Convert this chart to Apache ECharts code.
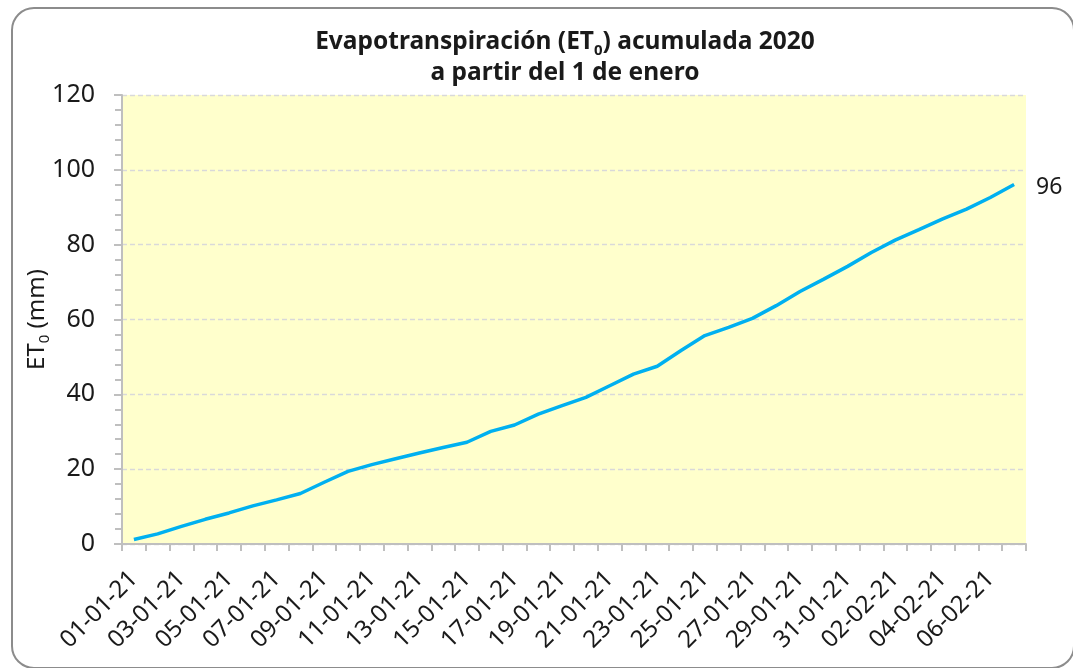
<!DOCTYPE html>
<html>
<head>
<meta charset="utf-8">
<script src="https://cdn.jsdelivr.net/npm/echarts@6/dist/echarts.min.js"></script>
<style>html,body{margin:0;padding:0;background:#fff}#c{width:1073px;height:668px}</style>
</head>
<body>
<div id="c"></div>
<script>
const categories = ['01-01-21','02-01-21','03-01-21','04-01-21','05-01-21','06-01-21','07-01-21','08-01-21','09-01-21','10-01-21',
  '11-01-21','12-01-21','13-01-21','14-01-21','15-01-21','16-01-21','17-01-21','18-01-21','19-01-21','20-01-21',
  '21-01-21','22-01-21','23-01-21','24-01-21','25-01-21','26-01-21','27-01-21','28-01-21','29-01-21','30-01-21',
  '31-01-21','01-02-21','02-02-21','03-02-21','04-02-21','05-02-21','06-02-21','07-02-21'];
const et0Acumulada = [1.2, 2.7, 4.7, 6.6, 8.3, 10.2, 11.8, 13.5, 16.5, 19.4,
  21.2, 22.8, 24.3, 25.8, 27.2, 30.1, 31.8, 34.7, 37.0, 39.2,
  42.3, 45.4, 47.5, 51.7, 55.7, 57.9, 60.3, 63.7, 67.5, 70.8,
  74.2, 77.9, 81.2, 84.0, 86.9, 89.5, 92.6, 96.1];
const yTicks = {min: 0, max: 120, interval: 20};

const FONT = 'Noto Sans';
const chart = echarts.init(document.getElementById('c'), null, {renderer: 'canvas'});

chart.setOption({
  backgroundColor: '#ffffff',
  animation: false,
  title: {
    left: 560, top: 22, textAlign: 'center',
    text: '{b|Evapotranspiración (ET}{s|0}{b|) acumulada 2020}\n{b|a partir del 1 de enero}',
    textStyle: {
      rich: {
        b: {fontFamily: FONT, fontWeight: 'bold', fontSize: 24.5, lineHeight: 31, color: '#1a1a1a'},
        s: {fontFamily: FONT, fontWeight: 'bold', fontSize: 15, lineHeight: 11, verticalAlign: 'bottom', color: '#1a1a1a'}
      }
    }
  },
  graphic: [{
    type: 'rect', silent: true, z: -1,
    shape: {x: 12, y: 8, width: 1062, height: 660, r: 22},
    style: {fill: 'none', stroke: '#8c8c8c', lineWidth: 2}
  }],
  grid: {left: 122, right: 47, top: 95, bottom: 124, show: true, backgroundColor: '#ffffcc', borderWidth: 0},
  xAxis: {
    type: 'category', data: categories, boundaryGap: true,
    axisLine: {lineStyle: {color: '#bfbfbf', width: 2}},
    axisTick: {show: true, interval: 0, length: 7, lineStyle: {color: '#bfbfbf', width: 2}},
    axisLabel: {interval: 1, rotate: 45, margin: 31, fontFamily: FONT, fontSize: 24, color: '#1a1a1a'},
    splitLine: {show: false}
  },
  yAxis: {
    type: 'value', min: yTicks.min, max: yTicks.max, interval: yTicks.interval,
    name: '{n|ET}{s|0}{n| (mm)}', nameLocation: 'middle', nameRotate: 90, nameGap: 70,
    nameMoveOverlap: false,
    nameTextStyle: {
      rich: {
        n: {fontFamily: FONT, fontSize: 24, lineHeight: 30, color: '#1a1a1a'},
        s: {fontFamily: FONT, fontSize: 15, lineHeight: 12, verticalAlign: 'bottom', color: '#1a1a1a'}
      }
    },
    axisLine: {show: true, lineStyle: {color: '#bfbfbf', width: 2}},
    axisTick: {show: true, length: 8, lineStyle: {color: '#bfbfbf', width: 2}},
    minorTick: {show: true, splitNumber: 5, length: 7, lineStyle: {color: '#bfbfbf', width: 2}},
    axisLabel: {margin: 27, fontFamily: FONT, fontSize: 25, color: '#1a1a1a'},
    splitLine: {show: true, lineStyle: {color: '#d9d9d9', type: [5, 3], width: 1.3}}
  },
  series: [{
    type: 'line', data: et0Acumulada, symbol: 'none', smooth: false,
    lineStyle: {color: '#00b0f0', width: 3.5},
    itemStyle: {color: '#00b0f0'},
    endLabel: {show: true, distance: 22, offset: [0, 3], fontFamily: FONT, fontSize: 23, color: '#1a1a1a',
      formatter: p => Math.round(p.value)}
  }]
});
</script>
</body>
</html>
